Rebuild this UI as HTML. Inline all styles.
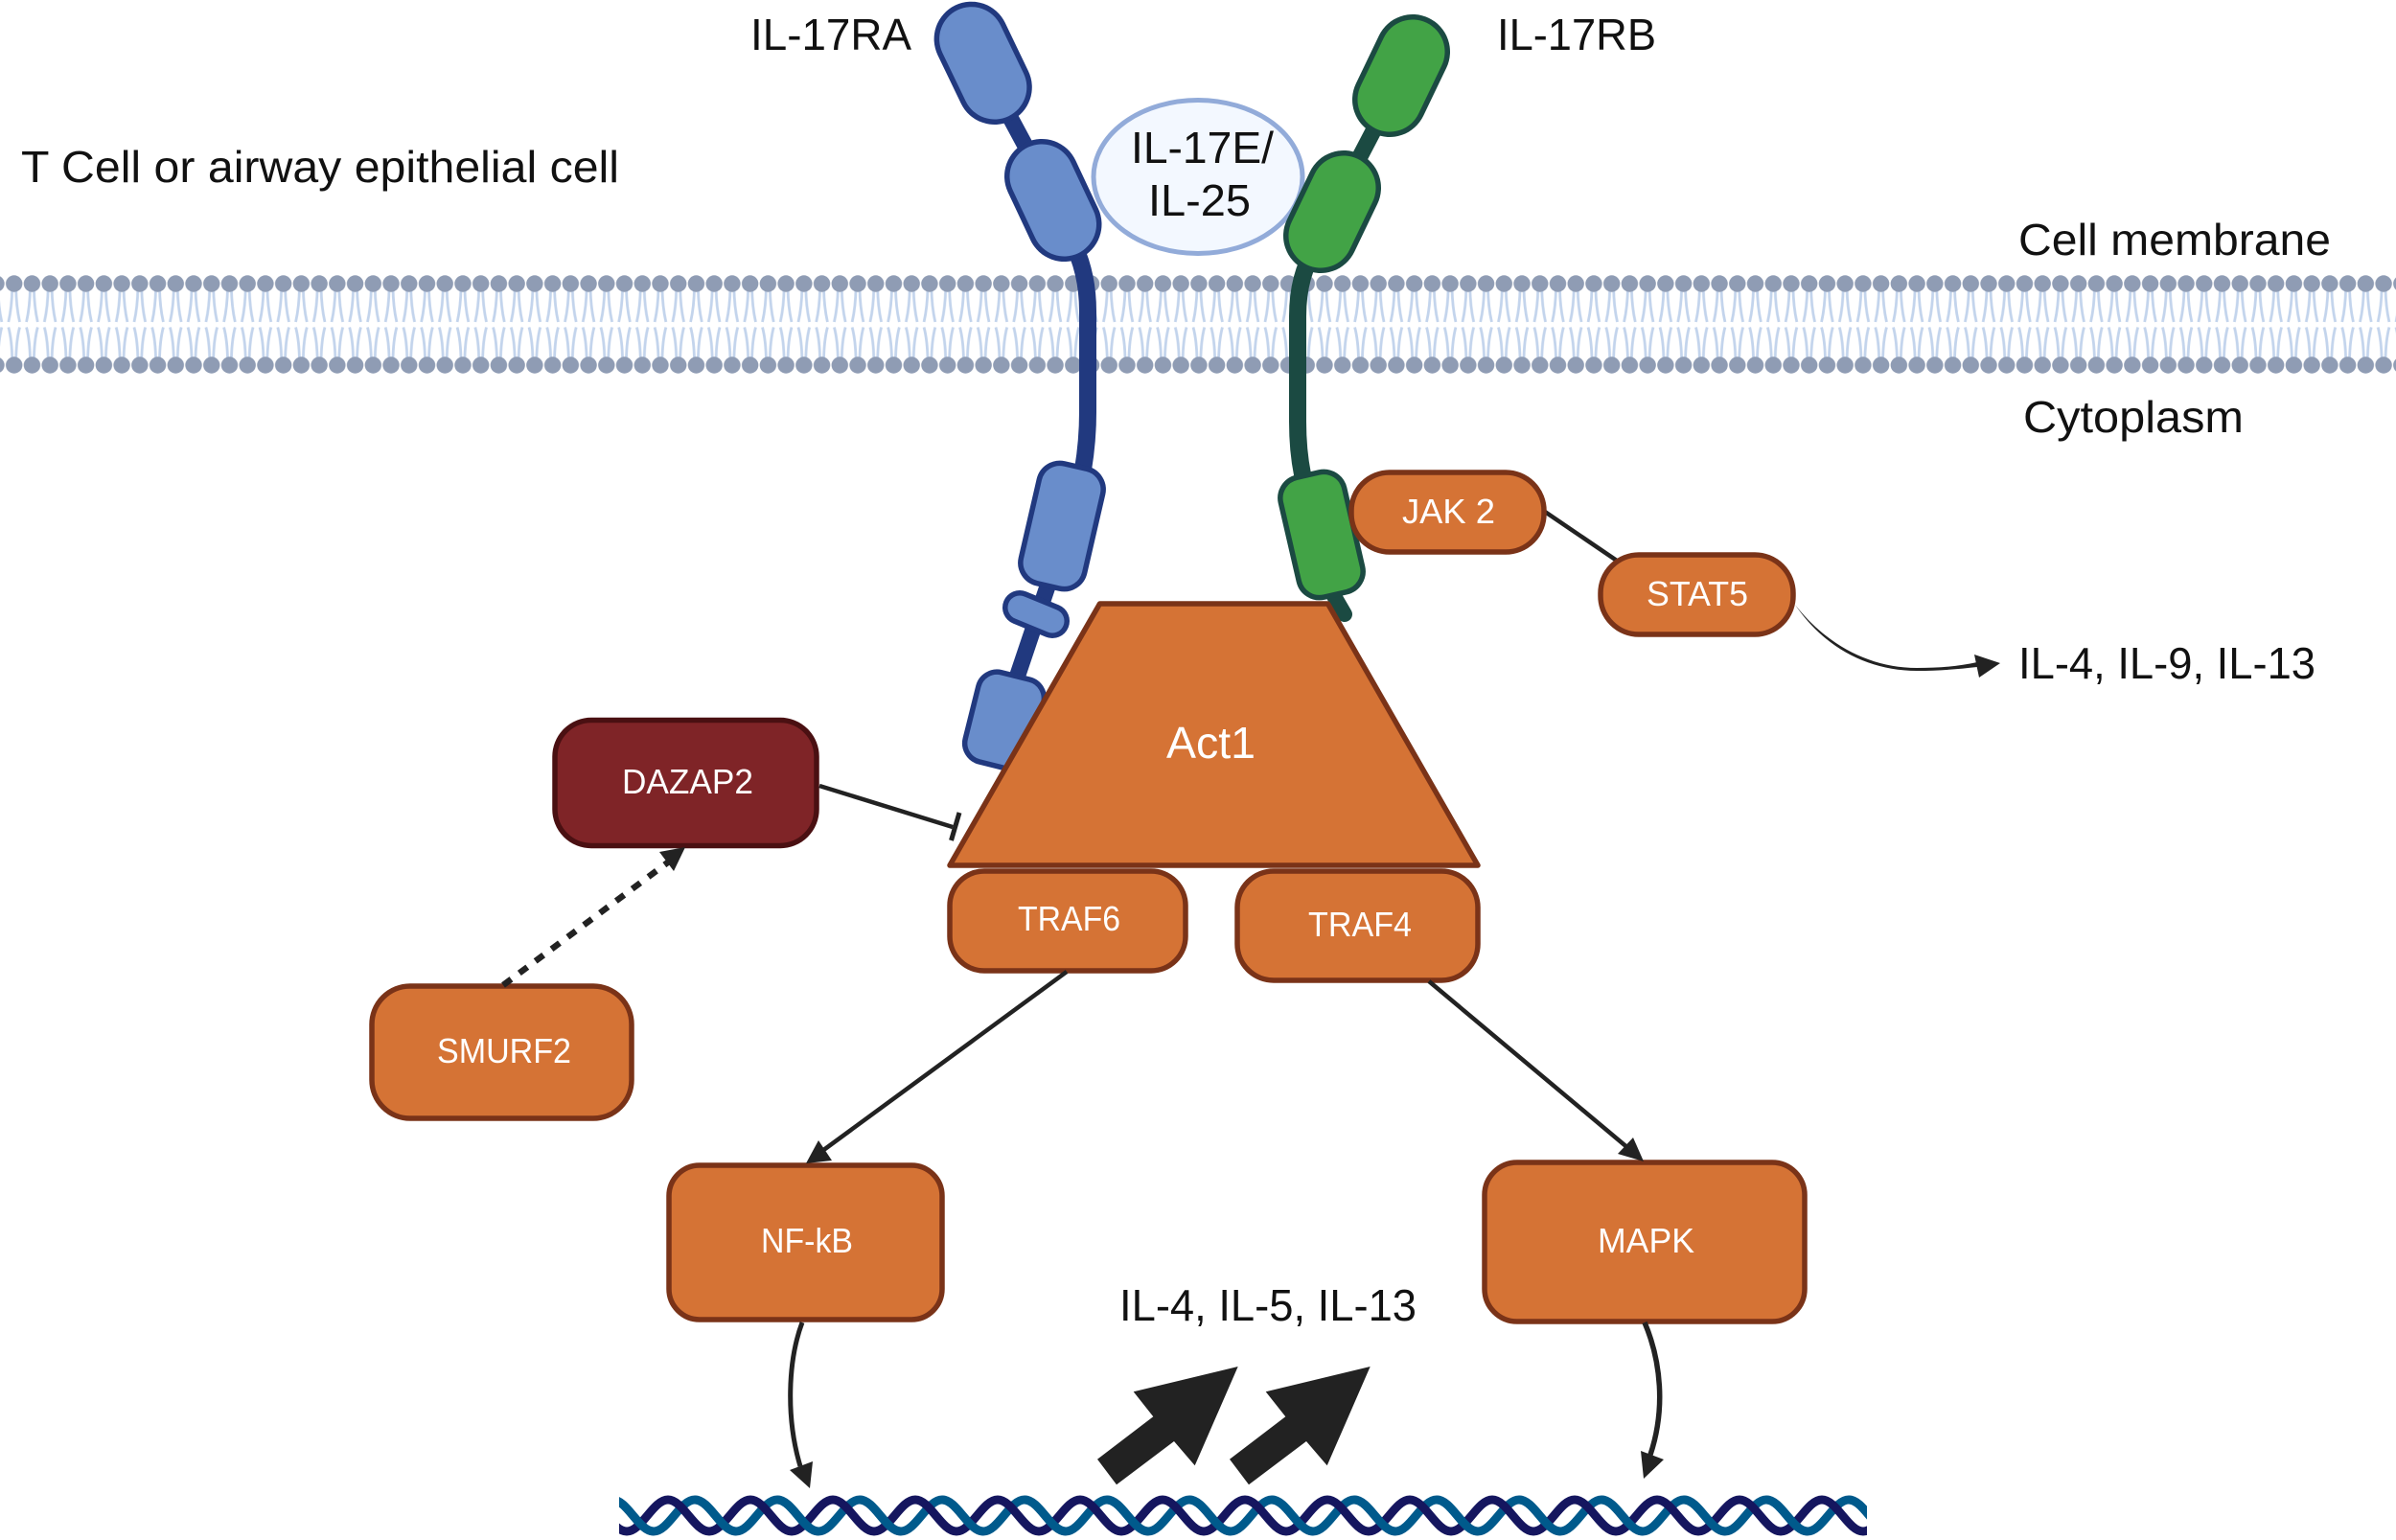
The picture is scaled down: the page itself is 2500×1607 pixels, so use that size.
<!DOCTYPE html>
<html><head><meta charset="utf-8"><style>
html,body{margin:0;padding:0;background:#fff}
svg{display:block}
text{font-family:"Liberation Sans",sans-serif}
.k{font-size:46px;fill:#111}
.w{font-size:36px;fill:#fff}
.o{fill:#D57335;stroke:#7A3318;stroke-width:5.5}
.b{fill:#698DCB;stroke:#21397F;stroke-width:5.5}
.g{fill:#42A346;stroke:#1B4A42;stroke-width:5.5}
</style></head><body>
<svg xmlns="http://www.w3.org/2000/svg" width="2500" height="1607" viewBox="0 0 2500 1607">
<defs>
<pattern id="mem" patternUnits="userSpaceOnUse" x="5.35" y="280" width="18.73" height="115">
<g fill="none" stroke="#C3D4EC" stroke-width="2.8">
<path d="M7.4,20 C7.2,35 6,45 3.5,56 M11.3,20 C11.5,35 12.7,45 15.2,56"/>
<path d="M7.4,96 C7.2,81 6,71 3.5,61.5 M11.3,96 C11.5,81 12.7,71 15.2,61.5"/>
</g>
<circle cx="9.36" cy="16" r="8.7" fill="#8F9CB4"/>
<circle cx="9.36" cy="101" r="8.7" fill="#8F9CB4"/>
</pattern>
<pattern id="dna" patternUnits="userSpaceOnUse" x="711" y="1550" width="86" height="60">
<g fill="none" stroke-width="9">
<path stroke="#005A8C" d="M-29,48 C-13.5,48 -1.5,15 14,15 S41.5,48 57,48 S84.5,15 100,15"/>
<path stroke="#15165F" d="M-14,15 C1.5,15 13.5,48 29,48 S56.5,15 72,15 S99.5,48 115,48"/>
<path stroke="#005A8C" d="M14,15 C29.5,15 41.5,48 57,48"/>
</g>
</pattern>
</defs>
<rect width="2500" height="1607" fill="#fff"/>

<!-- membrane -->
<rect x="0" y="280" width="2500" height="115" fill="url(#mem)"/>

<!-- ligand -->
<ellipse cx="1250" cy="184.500" rx="109" ry="80" fill="#F3F8FF" stroke="#92ABD9" stroke-width="5"/>

<!-- IL-17RA -->
<g fill="none" stroke-linecap="round">
<path d="M1037,91 L1087,184" stroke="#21397F" stroke-width="17"/>
<path d="M1115,245 Q1135,280 1135,325 L1135,430 Q1135,460 1130,490" stroke="#21397F" stroke-width="18" stroke-linecap="butt"/>
<path d="M1097,600 L1060,710" stroke="#21397F" stroke-width="17" stroke-linecap="butt"/>
<path d="M1013.600,40.700 L1037.800,91" stroke="#21397F" stroke-width="78"/>
<path d="M1013.600,40.700 L1037.800,91" stroke="#698DCB" stroke-width="67"/>
<path d="M1087,184 L1110.500,234" stroke="#21397F" stroke-width="78"/>
<path d="M1087,184 L1110.500,234" stroke="#698DCB" stroke-width="67"/>
<path d="M1064,634 L1098,648" stroke="#21397F" stroke-width="36"/>
<path d="M1064,634 L1098,648" stroke="#698DCB" stroke-width="25"/>
</g>
<rect x="1074" y="485" width="68" height="128" rx="22" transform="rotate(13 1108 549)" class="b"/>
<rect x="1013" y="704" width="70" height="96" rx="20" transform="rotate(14 1048 752)" class="b"/>

<!-- IL-17RB -->
<g fill="none" stroke-linecap="round">
<path d="M1450,104 L1402,196" stroke="#1B4A42" stroke-width="17"/>
<path d="M1375,255 Q1354,285 1354,330 L1354,440 Q1354,470 1359,495" stroke="#1B4A42" stroke-width="18" stroke-linecap="butt"/>
<path d="M1385,610 L1403,641" stroke="#1B4A42" stroke-width="16"/>
<path d="M1474,54 L1450,104" stroke="#1B4A42" stroke-width="78"/>
<path d="M1474,54 L1450,104" stroke="#42A346" stroke-width="67"/>
<path d="M1402,196 L1378,246" stroke="#1B4A42" stroke-width="78"/>
<path d="M1402,196 L1378,246" stroke="#42A346" stroke-width="67"/>
</g>
<rect x="1345" y="494" width="68" height="128" rx="22" transform="rotate(-13 1379 558)" class="g"/>

<!-- JAK2 - STAT5 -->
<path d="M1612,534 L1687,585" stroke="#222" stroke-width="4.500" fill="none"/>
<rect x="1410" y="493" width="201" height="83" rx="40" class="o"/>
<rect x="1670" y="579" width="201" height="83" rx="40" class="o"/>
<path d="M1873,631 C1905,672 1950,697 2000,697 C2025,697 2045,695 2063,691 L2063,696 C2045,698 2025,700 2000,700 C1948,700 1903,675 1873,631 Z" fill="#222"/>
<polygon points="2087,692 2060,683 2065,707" fill="#222"/>

<!-- Act1 -->
<polygon points="1147.500,630 1385.500,630 1542,903 991,903" class="o" stroke-linejoin="round"/>

<!-- boxes -->
<rect x="579" y="751.500" width="273" height="131" rx="38" fill="#7F2427" stroke="#4A1012" stroke-width="5.500"/>
<rect x="991" y="909" width="246" height="104" rx="36" class="o"/>
<rect x="1291" y="909" width="251" height="114" rx="38" class="o"/>
<rect x="388" y="1029" width="271" height="138" rx="40" class="o"/>
<rect x="698" y="1216" width="285" height="161" rx="32" class="o"/>
<rect x="1549" y="1213" width="334" height="166" rx="34" class="o"/>

<!-- connectors -->
<path d="M855,820 L994,863" stroke="#222" stroke-width="4.500" fill="none"/>
<path d="M1001,848 L992.500,877" stroke="#222" stroke-width="5" fill="none"/>
<path d="M525,1028 L698,899" stroke="#222" stroke-width="6.500" stroke-dasharray="10.500 10.500" fill="none"/>
<polygon points="715,884 688,889 703,909" fill="#222"/>
<path d="M1113,1014 L858,1201" stroke="#222" stroke-width="4.500" fill="none"/>
<polygon points="841,1214 854,1190 868,1211" fill="#222"/>
<path d="M1491,1024 L1700,1199" stroke="#222" stroke-width="4.500" fill="none"/>
<polygon points="1715,1212 1688,1204 1704,1187" fill="#222"/>
<path d="M837,1380 C822,1420 820,1480 835,1530" stroke="#222" stroke-width="5" fill="none"/>
<polygon points="845,1553 824,1534 848,1525" fill="#222"/>
<path d="M1716,1380 C1733,1420 1738,1470 1722,1518" stroke="#222" stroke-width="5.500" fill="none"/>
<polygon points="1715,1543 1712,1514 1736,1523" fill="#222"/>

<!-- big arrows -->
<polygon points="1291.700,1426 1182.700,1452.300 1203.300,1478.300 1145,1522.700 1165,1549.300 1225,1504 1246.700,1529.300" fill="#222"/>
<polygon points="1429.700,1426 1320.700,1452.300 1341.300,1478.300 1283,1522.700 1303,1549.300 1363,1504 1384.700,1529.300" fill="#222"/>

<!-- DNA -->
<rect x="646" y="1550" width="1302" height="57" fill="url(#dna)"/>

<!-- labels -->
<text class="k" x="783" y="52" textLength="168" lengthAdjust="spacingAndGlyphs">IL-17RA</text>
<text class="k" x="1562" y="52" textLength="166" lengthAdjust="spacingAndGlyphs">IL-17RB</text>
<text class="k" x="22" y="190" textLength="624" lengthAdjust="spacingAndGlyphs">T Cell or airway epithelial cell</text>
<text class="k" x="2106" y="266" textLength="326" lengthAdjust="spacingAndGlyphs">Cell membrane</text>
<text class="k" x="2111" y="451" textLength="230" lengthAdjust="spacingAndGlyphs">Cytoplasm</text>
<text class="k" x="1180" y="170" textLength="149" lengthAdjust="spacingAndGlyphs">IL-17E/</text>
<text class="k" x="1198" y="225" textLength="107" lengthAdjust="spacingAndGlyphs">IL-25</text>
<text class="k" x="2106" y="708" textLength="310" lengthAdjust="spacingAndGlyphs">IL-4, IL-9, IL-13</text>
<text class="k" x="1168" y="1378" textLength="310" lengthAdjust="spacingAndGlyphs">IL-4, IL-5, IL-13</text>
<text x="1217" y="791" font-size="46" fill="#fff" textLength="93" lengthAdjust="spacingAndGlyphs">Act1</text>
<text class="w" x="1463" y="546" textLength="97" lengthAdjust="spacingAndGlyphs">JAK 2</text>
<text class="w" x="1718" y="632" textLength="106" lengthAdjust="spacingAndGlyphs">STAT5</text>
<text class="w" x="649" y="828" textLength="137" lengthAdjust="spacingAndGlyphs">DAZAP2</text>
<text class="w" x="1062" y="971" textLength="107" lengthAdjust="spacingAndGlyphs">TRAF6</text>
<text class="w" x="1365" y="977" textLength="108" lengthAdjust="spacingAndGlyphs">TRAF4</text>
<text class="w" x="456" y="1109" textLength="140" lengthAdjust="spacingAndGlyphs">SMURF2</text>
<text class="w" x="794" y="1307" textLength="96" lengthAdjust="spacingAndGlyphs">NF-kB</text>
<text class="w" x="1667" y="1307" textLength="101" lengthAdjust="spacingAndGlyphs">MAPK</text>
</svg>
</body></html>
